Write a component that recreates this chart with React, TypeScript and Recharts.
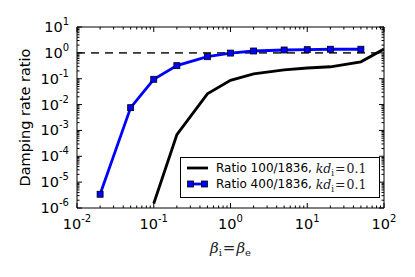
import React from 'react';
import { LineChart, Line, XAxis, YAxis, ReferenceLine, Legend } from 'recharts';

// axis ranges (log)
const xLo = 0.01;
const xHi = 100;
const yLo = 1e-6;
const yHi = 10;

// major decades, minor multipliers
const xDecades = [0.01, 0.1, 1, 10, 100];
const yDecades = [1e-6, 1e-5, 1e-4, 1e-3, 1e-2, 1e-1, 1, 10];
const minorSteps = [2, 3, 4, 5, 6, 7, 8, 9];

// series
const ratio100Beta = [0.1, 0.2, 0.5, 1, 2, 5, 10, 20, 50, 100];
const ratio100Damp = [1.5e-6, 6.8e-4, 0.026, 0.087, 0.153, 0.22, 0.26, 0.29, 0.45, 1.4];
const ratio400Beta = [0.02, 0.05, 0.1, 0.2, 0.5, 1, 2, 5, 10, 20, 50];
const ratio400Damp = [3.4e-6, 7.6e-3, 0.095, 0.32, 0.71, 0.98, 1.18, 1.29, 1.33, 1.38, 1.38];

const ratio100 = ratio100Beta.map((b, i) => ({ beta: b, damp: ratio100Damp[i] }));
const ratio400 = ratio400Beta.map((b, i) => ({ beta: b, damp: ratio400Damp[i] }));

const withMinor = (decades: number[]) => {
  const out: number[] = [];
  decades.forEach((d, i) => {
    out.push(d);
    if (i < decades.length - 1) minorSteps.forEach((m) => out.push(m * d));
  });
  return out;
};
const xTicks = withMinor(xDecades);
const yTicks = withMinor(yDecades);

const isMajor = (v: number) => Math.abs(Math.log10(v) - Math.round(Math.log10(v))) < 1e-6;
const expOf = (v: number) => String(Math.round(Math.log10(v)));

const SANS = 'DejaVu Sans';
const SERIF = 'DejaVu Serif';

function BottomTick(p: any) {
  const v = p.payload.value;
  const major = isMajor(v);
  return (
    <g>
      <line x1={p.x} x2={p.x} y1={p.y} y2={p.y - (major ? 5 : 2.5)} stroke="#000" strokeWidth={1} />
      {major && (
        <text x={p.x} y={p.y + 21} textAnchor="middle" fontFamily={SANS} fontSize={14.5} fill="#000">
          10<tspan dy={-7} fontSize={10}>{expOf(v)}</tspan>
        </text>
      )}
    </g>
  );
}

function TopTick(p: any) {
  const major = isMajor(p.payload.value);
  return <line x1={p.x} x2={p.x} y1={p.y} y2={p.y + (major ? 5 : 2.5)} stroke="#000" strokeWidth={1} />;
}

function LeftTick(p: any) {
  const v = p.payload.value;
  const major = isMajor(v);
  return (
    <g>
      <line x1={p.x} x2={p.x + (major ? 5 : 2.5)} y1={p.y} y2={p.y} stroke="#000" strokeWidth={1} />
      {major && (
        <text x={p.x - 8} y={p.y + 5} textAnchor="end" fontFamily={SANS} fontSize={14.5} fill="#000">
          10<tspan dy={-7} fontSize={10}>{expOf(v)}</tspan>
        </text>
      )}
    </g>
  );
}

function RightTick(p: any) {
  const major = isMajor(p.payload.value);
  return <line x1={p.x} x2={p.x - (major ? 5 : 2.5)} y1={p.y} y2={p.y} stroke="#000" strokeWidth={1} />;
}

function SquareDot(p: any) {
  if (p.cx == null || p.cy == null) return <g />;
  return <rect x={p.cx - 3} y={p.cy - 3} width={6} height={6} fill="#0000ff" stroke="#000" strokeWidth={0.8} />;
}

function YLabel(p: any) {
  const vb = p.viewBox;
  const cx = vb.x - 51;
  const cy = vb.y + vb.height / 2;
  return (
    <text x={cx} y={cy} transform={`rotate(-90 ${cx} ${cy})`} textAnchor="middle" dominantBaseline="central" fontFamily={SANS} fontSize={14.5} fill="#000">
      Damping rate ratio
    </text>
  );
}

function XLabel(p: any) {
  const vb = p.viewBox;
  const cx = vb.x + vb.width / 2;
  return (
    <text x={cx} y={vb.y + 45} textAnchor="middle" fontFamily={SERIF} fontSize={15} fill="#222">
      <tspan fontStyle="italic">β</tspan>
      <tspan fontSize={10} dy={3}>i</tspan>
      <tspan dy={-3} dx={1}>=</tspan>
      <tspan dx={1} fontStyle="italic">β</tspan>
      <tspan fontSize={10} dy={3}>e</tspan>
    </text>
  );
}

function KdText() {
  return (
    <span style={{ fontFamily: SERIF, fontSize: 12.5, color: '#222' }}>
      <i>kd</i>
      <span style={{ fontSize: 8.5, position: 'relative', top: 3 }}>i</span>
      <span style={{ margin: '0 1px' }}>=</span>0.1
    </span>
  );
}

function LegendBox() {
  const row: React.CSSProperties = { display: 'flex', alignItems: 'center', height: 16 };
  return (
    <div style={{ width: 200, height: 41, boxSizing: 'border-box', border: '1px solid #000', background: '#fff', paddingTop: 2 }}>
      <div style={row}>
        <svg width={21} height={10} style={{ marginLeft: 6 }}>
          <line x1={0} x2={21} y1={5} y2={5} stroke="#000" strokeWidth={2.8} />
        </svg>
        <span style={{ marginLeft: 8, fontFamily: SANS, fontSize: 12, whiteSpace: 'pre' }}>Ratio 100/1836, </span>
        <KdText />
      </div>
      <div style={row}>
        <svg width={21} height={10} style={{ marginLeft: 6 }}>
          <line x1={3} x2={18} y1={5} y2={5} stroke="#0000ff" strokeWidth={2.8} />
          <rect x={0.5} y={2} width={6} height={6} fill="#0000ff" stroke="#000" strokeWidth={0.8} />
          <rect x={14.5} y={2} width={6} height={6} fill="#0000ff" stroke="#000" strokeWidth={0.8} />
        </svg>
        <span style={{ marginLeft: 8, fontFamily: SANS, fontSize: 12, whiteSpace: 'pre' }}>Ratio 400/1836, </span>
        <KdText />
      </div>
    </div>
  );
}

const axisLine = { stroke: '#000', strokeWidth: 1 };

export default function App() {
  return (
    <div style={{ width: 407, height: 269, fontFamily: SANS }}>
      <LineChart width={407} height={269} margin={{ top: 18, right: 30, bottom: 68, left: 68 }}>
        <XAxis
          dataKey="beta"
          type="number"
          scale="log"
          domain={[xLo, xHi]}
          allowDataOverflow
          ticks={xTicks}
          interval={0}
          height={1}
          tickSize={0}
          tickMargin={0}
          tickLine={false}
          axisLine={axisLine}
          tick={(p: any) => <BottomTick {...p} />}
          label={<XLabel />}
        />
        <XAxis
          xAxisId="top"
          orientation="top"
          dataKey="beta"
          type="number"
          scale="log"
          domain={[xLo, xHi]}
          allowDataOverflow
          ticks={xTicks}
          interval={0}
          height={1}
          tickSize={0}
          tickMargin={0}
          tickLine={false}
          axisLine={axisLine}
          tick={(p: any) => <TopTick {...p} />}
        />
        <YAxis
          dataKey="damp"
          type="number"
          scale="log"
          domain={[yLo, yHi]}
          allowDataOverflow
          ticks={yTicks}
          interval={0}
          width={1}
          tickSize={0}
          tickMargin={0}
          tickLine={false}
          axisLine={axisLine}
          tick={(p: any) => <LeftTick {...p} />}
          label={<YLabel />}
        />
        <YAxis
          yAxisId="right"
          orientation="right"
          dataKey="damp"
          type="number"
          scale="log"
          domain={[yLo, yHi]}
          allowDataOverflow
          ticks={yTicks}
          interval={0}
          width={1}
          tickSize={0}
          tickMargin={0}
          tickLine={false}
          axisLine={axisLine}
          tick={(p: any) => <RightTick {...p} />}
        />
        <ReferenceLine y={1} stroke="#333" strokeWidth={1.8} strokeDasharray="8 6" />
        <Line
          data={ratio100}
          dataKey="damp"
          stroke="#000"
          strokeWidth={2.8}
          dot={false}
          isAnimationActive={false}
        />
        <Line
          data={ratio400}
          dataKey="damp"
          stroke="#0000ff"
          strokeWidth={2.8}
          dot={<SquareDot />}
          isAnimationActive={false}
        />
        <Legend
          layout="vertical"
          align="center"
          verticalAlign="middle"
          content={() => <LegendBox />}
          wrapperStyle={{ left: 172, top: 149, width: 200, height: 41 }}
        />
      </LineChart>
    </div>
  );
}
